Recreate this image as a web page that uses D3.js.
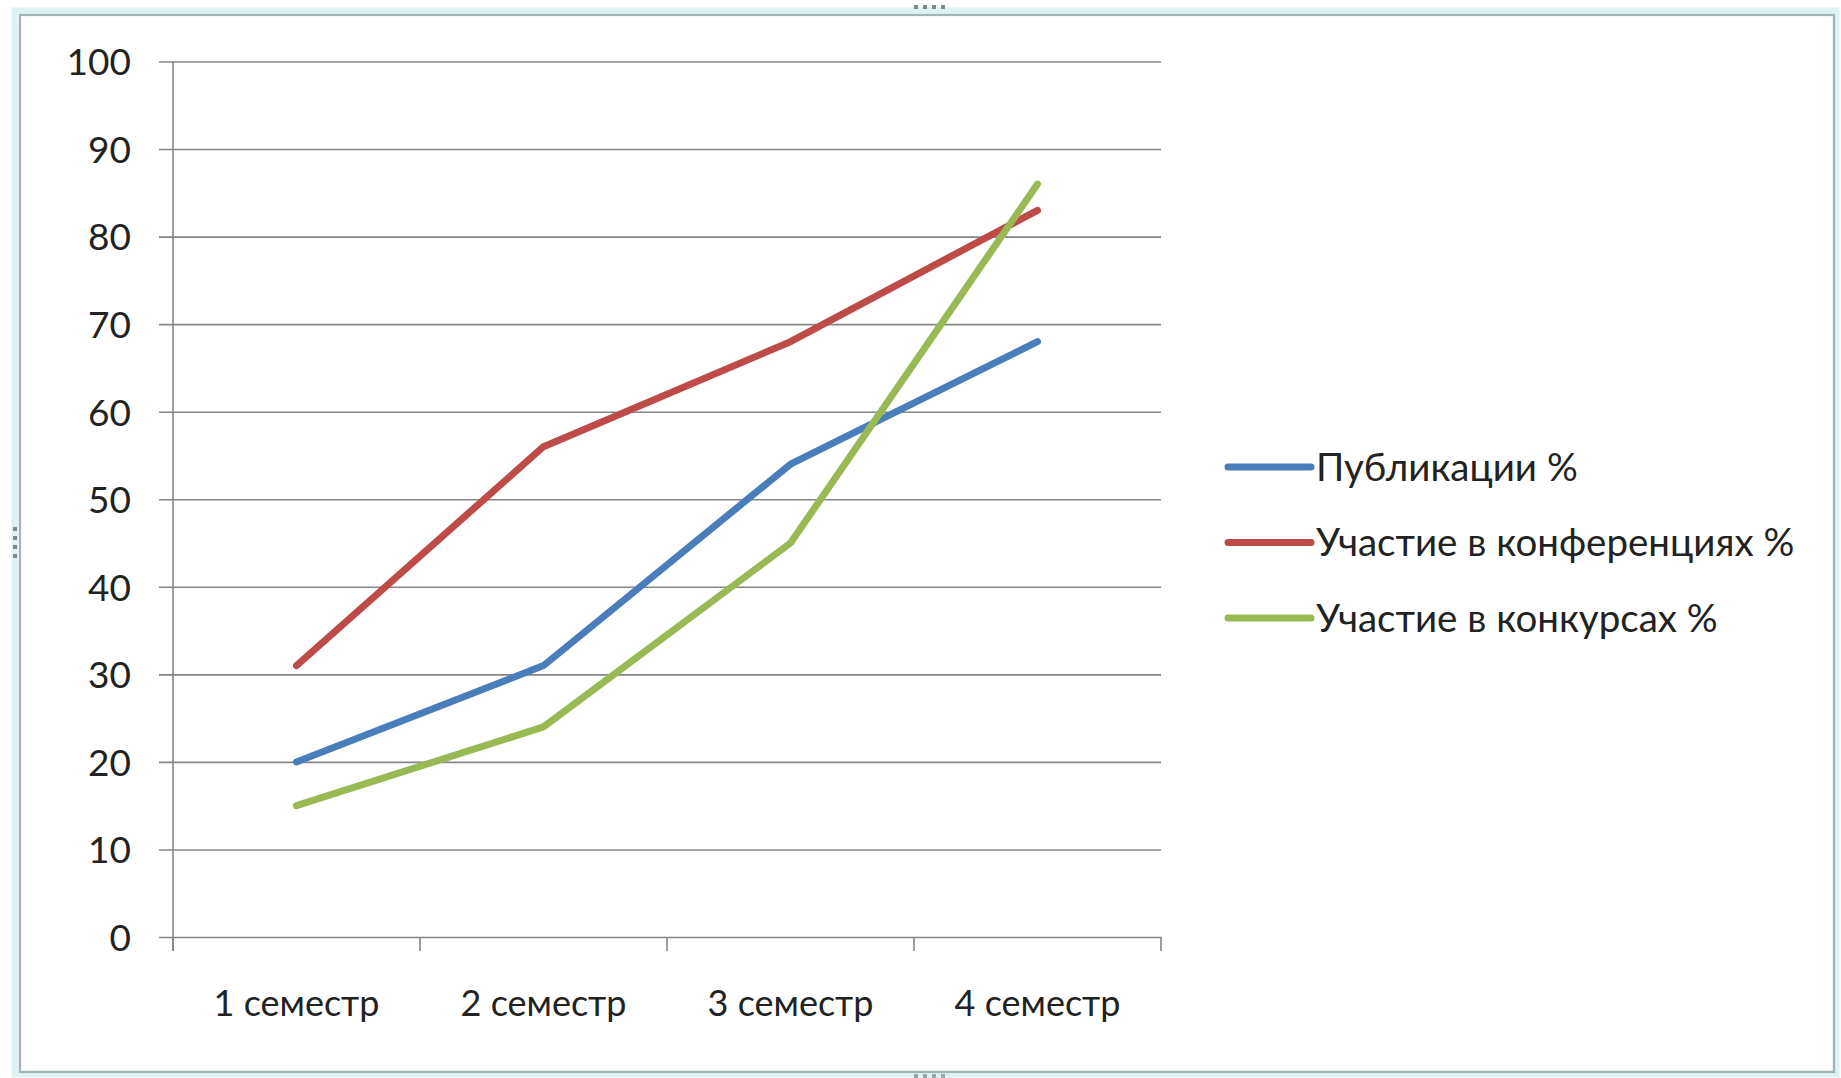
<!DOCTYPE html>
<html>
<head>
<meta charset="utf-8">
<script src="https://cdn.jsdelivr.net/npm/d3@7"></script>
<style>
  html, body { margin: 0; padding: 0; background: #ffffff; }
  svg { display: block; }
  text { font-family: Lato, "Open Sans", "Noto Sans", sans-serif; fill: #222; }
</style>
</head>
<body>
<svg id="chart" width="1841" height="1078"></svg>
<script>
// Categories along the x axis
const categories = ["1 семестр", "2 семестр", "3 семестр", "4 семестр"];

// Series names and values (percent)
const seriesNames = ["Публикации %", "Участие в конференциях %", "Участие в конкурсах %"];
const publications = [20, 31, 54, 68];
const conferences = [31, 56, 68, 83];
const contests = [15, 24, 45, 86];
const seriesColors = ["#4a7ebb", "#be4b48", "#98b954"];

// Y axis ticks
const yTicks = [0, 10, 20, 30, 40, 50, 60, 70, 80, 90, 100];

const series = [publications, conferences, contests].map((values, i) => ({
  name: seriesNames[i], color: seriesColors[i], values
}));

const svg = d3.select("#chart");

// Outer frame of the chart area
svg.append("rect")
  .attr("x", 15).attr("y", 11).attr("width", 1821).attr("height", 1063)
  .attr("fill", "#ffffff").attr("stroke", "#def2f4").attr("stroke-width", 7);
svg.append("rect")
  .attr("x", 20).attr("y", 15).attr("width", 1814).attr("height", 1057)
  .attr("fill", "none").attr("stroke", "#a6b3b5").attr("stroke-width", 2.2);

// Sizing handles on the frame
const handleDots = [0, 1, 2, 3];
svg.append("g").selectAll("rect").data(handleDots).join("rect")
  .attr("x", d => 914 + d * 9).attr("y", 5).attr("width", 4).attr("height", 4)
  .attr("fill", "#7d8a8c");
svg.append("g").selectAll("rect").data(handleDots).join("rect")
  .attr("x", d => 914 + d * 9).attr("y", 1074).attr("width", 4).attr("height", 4)
  .attr("fill", "#9aa6a8");
svg.append("g").selectAll("rect").data(handleDots).join("rect")
  .attr("x", 13).attr("y", d => 527 + d * 9).attr("width", 4).attr("height", 4)
  .attr("fill", "#7d8a8c");

const plot = { left: 173, right: 1161, top: 61.5, bottom: 937 };

const x = d3.scaleBand().domain(categories).range([plot.left, plot.right]).padding(0);
const y = d3.scaleLinear().domain([0, 100]).range([plot.bottom, plot.top]);

// Horizontal gridlines with a short tick to the left of the axis
const yAxis = d3.axisLeft(y).tickValues(yTicks)
  .tickSize(-(plot.right - plot.left)).tickPadding(42).tickFormat(d3.format("d"));
const gy = svg.append("g").attr("transform", `translate(${plot.left},0)`).call(yAxis);
gy.select(".domain").remove();
gy.selectAll(".tick line")
  .attr("x1", -14).attr("x2", plot.right - plot.left)
  .attr("stroke", "#868686").attr("stroke-width", 1.6);
gy.selectAll(".tick text")
  .attr("font-size", 37).attr("fill", "#222").attr("dy", "0.36em");

// Vertical axis line
svg.append("line")
  .attr("x1", plot.left).attr("x2", plot.left)
  .attr("y1", plot.top).attr("y2", plot.bottom + 14)
  .attr("stroke", "#868686").attr("stroke-width", 1.6);

// Category axis with tick marks between categories
const xAxis = d3.axisBottom(x).tickSize(0).tickPadding(53);
const gx = svg.append("g").attr("transform", `translate(0,${plot.bottom})`).call(xAxis);
gx.select(".domain").remove();
gx.selectAll(".tick text").attr("font-size", 36).attr("fill", "#222");

const boundaries = categories.map(c => x(c)).concat([x.range()[1]]);
svg.append("g").selectAll("line").data(boundaries).join("line")
  .attr("x1", d => d).attr("x2", d => d)
  .attr("y1", plot.bottom).attr("y2", plot.bottom + 14)
  .attr("stroke", "#868686").attr("stroke-width", 1.6);

// Series lines
const line = d3.line()
  .x((d, i) => x(categories[i]) + x.bandwidth() / 2)
  .y(d => y(d));

svg.append("g").selectAll("path").data(series).join("path")
  .attr("d", d => line(d.values))
  .attr("fill", "none")
  .attr("stroke", d => d.color)
  .attr("stroke-width", 7)
  .attr("stroke-linecap", "round")
  .attr("stroke-linejoin", "round");

// Legend
const legend = svg.append("g").attr("transform", "translate(1228,467)");
const item = legend.selectAll("g").data(series).join("g")
  .attr("transform", (d, i) => `translate(0,${i * 75.5})`);
item.append("line")
  .attr("x1", 0).attr("x2", 83).attr("y1", 0).attr("y2", 0)
  .attr("stroke", d => d.color).attr("stroke-width", 7).attr("stroke-linecap", "round");
item.append("text")
  .attr("x", 88).attr("y", 0).attr("dy", "0.36em")
  .attr("font-size", 38.5)
  .text(d => d.name);
</script>
</body>
</html>
